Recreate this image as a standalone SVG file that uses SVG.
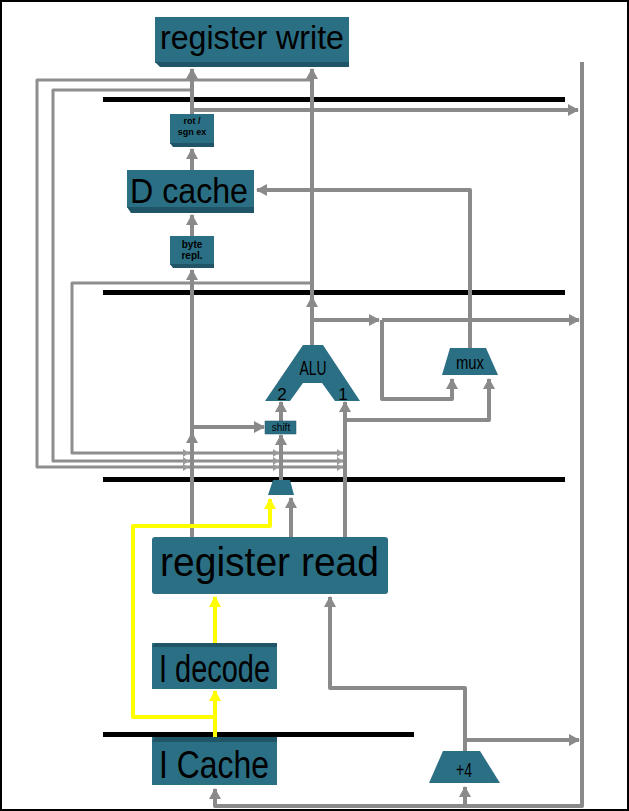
<svg xmlns="http://www.w3.org/2000/svg" width="629" height="811" viewBox="0 0 629 811">
<style>
.bg{fill:#ffffff}
.frame{fill:none;stroke:#000;stroke-width:2}
.bar{fill:#000}
.box{fill:#2b6f84}
.bev{fill:#1f5567}
.w{fill:none;stroke:#8a8a8a;stroke-width:4;stroke-linejoin:round}
.wt{fill:none;stroke:#8e8e8e;stroke-width:3;stroke-linejoin:round}
.y{fill:none;stroke:#ffff00;stroke-width:4;stroke-linejoin:round}
.t{font-family:"Liberation Sans",Arial,sans-serif;fill:#000}
.tk{fill:#9a9a9a}
</style>
<defs>
<marker id="ag" markerUnits="userSpaceOnUse" markerWidth="12" markerHeight="12" refX="10" refY="6" orient="auto">
<path d="M0,0 L11,6 L0,12 Z" fill="#8a8a8a"/>
</marker>
<marker id="ay" markerUnits="userSpaceOnUse" markerWidth="12" markerHeight="12" refX="10" refY="6" orient="auto">
<path d="M0,0 L11,6 L0,12 Z" fill="#ffff00"/>
</marker>
</defs>
<rect class="bg" x="0" y="0" width="629" height="811"/>
<rect class="frame" x="1" y="1" width="627" height="809"/>

<g id="pipeline-registers">
<rect class="bar" x="103" y="97" width="462" height="5"/>
<rect class="bar" x="103" y="290" width="462" height="5"/>
<rect class="bar" x="103" y="477" width="462" height="5"/>
<rect class="bar" x="103" y="732" width="311" height="5"/>
</g>

<g id="connectors">
<path class="wt" d="M312,80 H37 V467 H343"/>
<path class="wt" d="M192,90 H53 V461 H343"/>
<path class="wt" d="M312,283 H72 V453 H343"/>
<path class="tk" d="M183,449 L189,453 L183,457 Z M183,457 L189,461 L183,465 Z M183,464 L189,467 L183,471 Z"/>
<path class="tk" d="M273,449 L279,453 L273,457 Z M273,457 L279,461 L273,465 Z M273,464 L279,467 L273,471 Z"/>
<path class="tk" d="M337,449 L343,453 L337,457 Z M337,457 L343,461 L337,465 Z M337,464 L343,467 L337,471 Z"/>
<path class="w" d="M192,114 V69" marker-end="url(#ag)"/>
<path class="w" d="M192,110 H578" marker-end="url(#ag)"/>
<path class="w" d="M312,345 V69" marker-end="url(#ag)"/>
<path class="w" d="M312,320 V297" marker-end="url(#ag)"/>
<path class="w" d="M192,170 V149" marker-end="url(#ag)"/>
<path class="w" d="M192,236 V215" marker-end="url(#ag)"/>
<path class="w" d="M192,537 V433" marker-end="url(#ag)"/>
<path class="w" d="M192,433 V270" marker-end="url(#ag)"/>
<path class="w" d="M192,427 H264" marker-end="url(#ag)"/>
<path class="w" d="M281,480 V435" marker-end="url(#ag)"/>
<path class="w" d="M281,421 V402" marker-end="url(#ag)"/>
<path class="w" d="M291,537 V498" marker-end="url(#ag)"/>
<path class="w" d="M345,537 V402" marker-end="url(#ag)"/>
<path class="w" d="M345,420 H489 V379" marker-end="url(#ag)"/>
<path class="w" d="M312,320 H379" marker-end="url(#ag)"/>
<path class="w" d="M382,320 H579" marker-end="url(#ag)"/>
<path class="w" d="M382,320 V399 H452 V379" marker-end="url(#ag)"/>
<path class="w" d="M470,348 V190 H257" marker-end="url(#ag)"/>
<path class="w" d="M582,62 V806 H215 V789" marker-end="url(#ag)"/>
<path class="w" d="M465,806 V787" marker-end="url(#ag)"/>
<path class="w" d="M465,752 V688 H330 V597" marker-end="url(#ag)"/>
<path class="w" d="M465,740 H579" marker-end="url(#ag)"/>
<path class="y" d="M215,740 V691" marker-end="url(#ay)"/>
<path class="y" d="M215,643 V597" marker-end="url(#ay)"/>
<path class="y" d="M215,717 H133 V526 H270 V499" marker-end="url(#ay)"/>
</g>

<g id="register-write">
<rect class="box" x="155" y="17" width="194" height="46"/>
<path class="bev" d="M155,62 H349 V67 H160 Z"/>
<text class="t" x="160" y="49" font-size="34" textLength="184" lengthAdjust="spacingAndGlyphs">register write</text>
</g>

<g id="rot-sgn-ex">
<rect class="box" x="170" y="114" width="44" height="30"/>
<path class="bev" d="M170,143 H214 V147 H173 Z"/>
<text class="t" x="192" y="124" font-size="9" font-weight="bold" text-anchor="middle">rot /</text>
<text class="t" x="192" y="135" font-size="9" font-weight="bold" text-anchor="middle">sgn ex</text>
</g>

<g id="d-cache">
<rect class="box" x="127" y="170" width="127" height="38"/>
<path class="bev" d="M127,207 H254 V213 H131 Z"/>
<text class="t" x="130" y="203" font-size="35" textLength="118" lengthAdjust="spacingAndGlyphs">D cache</text>
</g>

<g id="byte-repl">
<rect class="box" x="170" y="236" width="44" height="29"/>
<path class="bev" d="M170,264 H214 V268 H173 Z"/>
<text class="t" x="192" y="248" font-size="10" font-weight="bold" text-anchor="middle">byte</text>
<text class="t" x="192" y="259" font-size="10" font-weight="bold" text-anchor="middle">repl.</text>
</g>

<g id="alu">
<path class="box" d="M303,345 H323 L360,401 H335 L322,383 H303 L290,401 H265 Z"/>
<text class="t" x="313" y="375" font-size="21" text-anchor="middle" textLength="27" lengthAdjust="spacingAndGlyphs">ALU</text>
<text class="t" x="282" y="400" font-size="17" text-anchor="middle">2</text>
<text class="t" x="343" y="400" font-size="17" text-anchor="middle">1</text>
</g>

<g id="mux">
<path class="box" d="M450,348 H486 L498,375 H442 Z"/>
<text class="t" x="470" y="369" font-size="19" text-anchor="middle" textLength="28" lengthAdjust="spacingAndGlyphs">mux</text>
</g>

<g id="shift">
<rect class="box" x="265" y="421" width="31" height="13" stroke="#1f5567" stroke-width="0.5"/>
<text class="t" x="281" y="431" font-size="10" text-anchor="middle">shift</text>
</g>

<g id="forward-mux">
<path class="box" d="M273,480 H290 L294,495 H268 Z"/>
</g>

<g id="register-read">
<rect class="box" x="152" y="537" width="236" height="57" rx="3"/>
<text class="t" x="160" y="576" font-size="41" textLength="219" lengthAdjust="spacingAndGlyphs">register read</text>
</g>

<g id="i-decode">
<rect class="box" x="152" y="643" width="125" height="46"/>
<path class="bev" d="M155,643 H277 V647 H152 Z"/>
<text class="t" x="159" y="682" font-size="38" textLength="111" lengthAdjust="spacingAndGlyphs">I decode</text>
</g>

<g id="i-cache">
<rect class="box" x="152" y="737" width="125" height="48"/>
<path class="bev" d="M155,737 H277 V742 H152 Z"/>
<text class="t" x="159" y="778" font-size="38" textLength="110" lengthAdjust="spacingAndGlyphs">I Cache</text>
</g>

<g id="plus4">
<path class="box" d="M443,751 H480 L500,783 H429 Z"/>
<text class="t" x="464" y="777" font-size="20" text-anchor="middle" textLength="16" lengthAdjust="spacingAndGlyphs">+4</text>
</g>
</svg>
